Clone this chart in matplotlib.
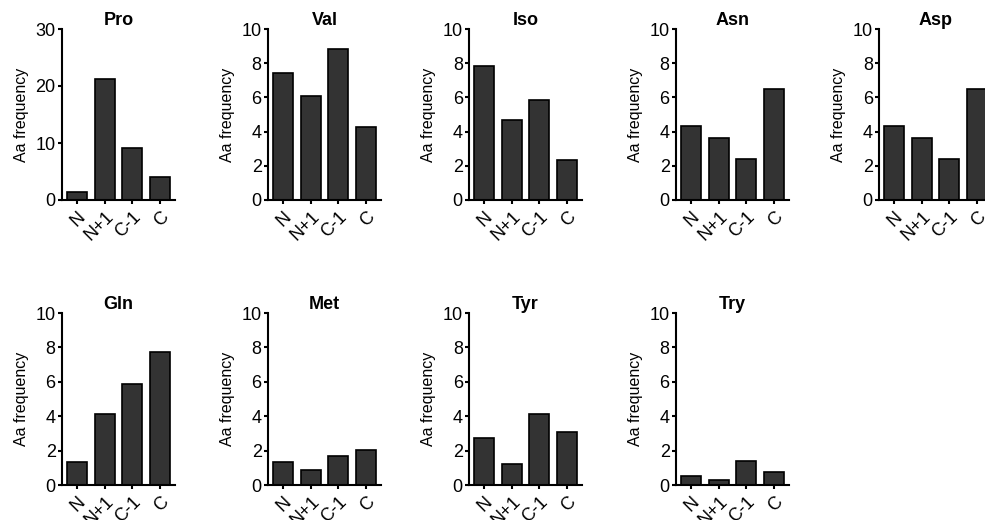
import matplotlib.pyplot as plt

plt.rcParams['font.family'] = ['Liberation Sans', 'DejaVu Sans']

# positions along the chain
positions = ['N', 'N+1', 'C-1', 'C']

# Aa frequency per amino acid
pro = [1.45, 21.15, 9.2, 4.05]
val = [7.4, 6.1, 8.85, 4.25]
iso = [7.85, 4.65, 5.85, 2.35]
asn = [4.35, 3.65, 2.4, 6.5]
asp = [4.35, 3.65, 2.4, 6.5]
gln = [1.35, 4.1, 5.9, 7.75]
met = [1.35, 0.9, 1.7, 2.05]
tyr = [2.75, 1.25, 4.1, 3.1]
try_ = [0.55, 0.3, 1.4, 0.75]

names = ['Pro', 'Val', 'Iso', 'Asn', 'Asp', 'Gln', 'Met', 'Tyr', 'Try']
series = [pro, val, iso, asn, asp, gln, met, tyr, try_]

W, H = 985, 520
fig = plt.figure(figsize=(W / 100, H / 100), dpi=100)

# axes left edges (px) for each column, top/bottom (px) for each row
lefts = [62, 268, 469, 676, 879]
rows = [(29, 200), (313, 485)]
aw = 113

for k, (name, vals) in enumerate(zip(names, series)):
    r, c = divmod(k, 5)
    top, bot = rows[r]
    ax = fig.add_axes([lefts[c] / W, 1 - bot / H, aw / W, (bot - top) / H])
    ax.bar(range(4), vals, width=0.72, color='#333333', edgecolor='black', linewidth=1.2)
    ax.set_xlim(-0.54, 3.54)
    if name == 'Pro':
        ax.set_ylim(0, 30)
        ax.set_yticks([0, 10, 20, 30])
    else:
        ax.set_ylim(0, 10)
        ax.set_yticks([0, 2, 4, 6, 8, 10])
    ax.set_xticks(range(4))
    ax.set_xticklabels(positions, rotation=45, ha='right', rotation_mode='anchor')
    ax.set_title(name, fontweight='bold', fontsize=13, pad=0)
    ax.set_ylabel('Aa frequency', fontsize=11.5, labelpad=5)
    for s in ['top', 'right']:
        ax.spines[s].set_visible(False)
    for s in ['left', 'bottom']:
        ax.spines[s].set_linewidth(1.5)
    ax.tick_params(labelsize=13, width=1.5, length=3, pad=1.5, colors='black')
    ax.tick_params(axis='x', pad=3)

fig.savefig('out.png', dpi=100)
